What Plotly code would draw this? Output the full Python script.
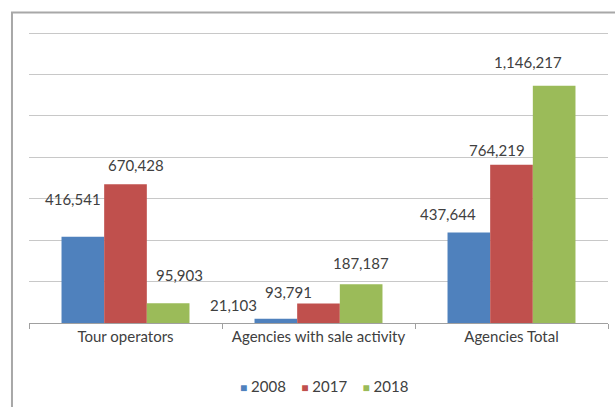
import plotly.graph_objects as go

categories = ["Tour operators", "Agencies with sale activity", "Agencies Total"]
years = ["2008", "2017", "2018"]
values_2008 = [416541, 21103, 437644]
values_2017 = [670428, 93791, 764219]
values_2018 = [95903, 187187, 1146217]
series = [values_2008, values_2017, values_2018]
colors = ["#4F81BD", "#C0504D", "#9BBB59"]

# label offsets in pixels (style), per series per category
x_shifts = [[-11, -43, -22], [10, -30, -15], [12, 0, -26]]
y_shifts = [[38, 14, 18], [19, 12, 15], [28, 21, 24]]

fig = go.Figure()
for yr, vals, col in zip(years, series, colors):
    fig.add_trace(go.Bar(name=yr, x=categories, y=vals, marker_color=col,
                         marker_line_width=0, showlegend=False))

annotations = []
for si, vals in enumerate(series):
    for ci, v in enumerate(vals):
        annotations.append(dict(
            x=ci, y=v, xref="x", yref="y", text=f"{v:,}", showarrow=False,
            xshift=(si - 1) * 42 + x_shifts[si][ci], yshift=y_shifts[si][ci],
            font=dict(family="Lato", size=15, color="#404040")))

# compact legend built from the series names and colours
legend_text = "&nbsp;&nbsp;&nbsp;&nbsp;".join(
    f"<span style='color:{c}; font-size:12px'>■</span>&nbsp;{y}" for y, c in zip(years, colors))
annotations.append(dict(x=0.51, y=-0.214, xref="paper", yref="paper", text=legend_text,
                        showarrow=False, xanchor="center", yanchor="middle",
                        font=dict(family="Lato", size=15, color="#404040")))

fig.update_layout(
    width=615, height=407,
    margin=dict(l=29, r=7, t=29, b=84),
    paper_bgcolor="white", plot_bgcolor="white",
    barmode="group", bargap=0.337, bargroupgap=0,
    annotations=annotations,
    showlegend=False,
    shapes=[dict(type="rect", xref="paper", yref="paper",
                 x0=-0.0294, x1=1.1, y0=-0.4, y1=1.056,
                 line=dict(color="#A8A8A8", width=2), fillcolor="rgba(0,0,0,0)")],
    font=dict(family="Lato", color="#404040"),
)
fig.update_xaxes(type="category", showline=True, linecolor="#A0A0A0", linewidth=1,
                 ticks="outside", tickson="boundaries", ticklen=5, tickcolor="#A0A0A0",
                 tickfont=dict(family="Lato", size=15, color="#404040"), showgrid=False)
fig.update_yaxes(range=[0, 1420000], tickvals=[200000 * i for i in range(1, 8)],
                 showticklabels=False,
                 showgrid=True, gridcolor="#C8C8C8", gridwidth=1, zeroline=False)

fig.write_html("out.html")
